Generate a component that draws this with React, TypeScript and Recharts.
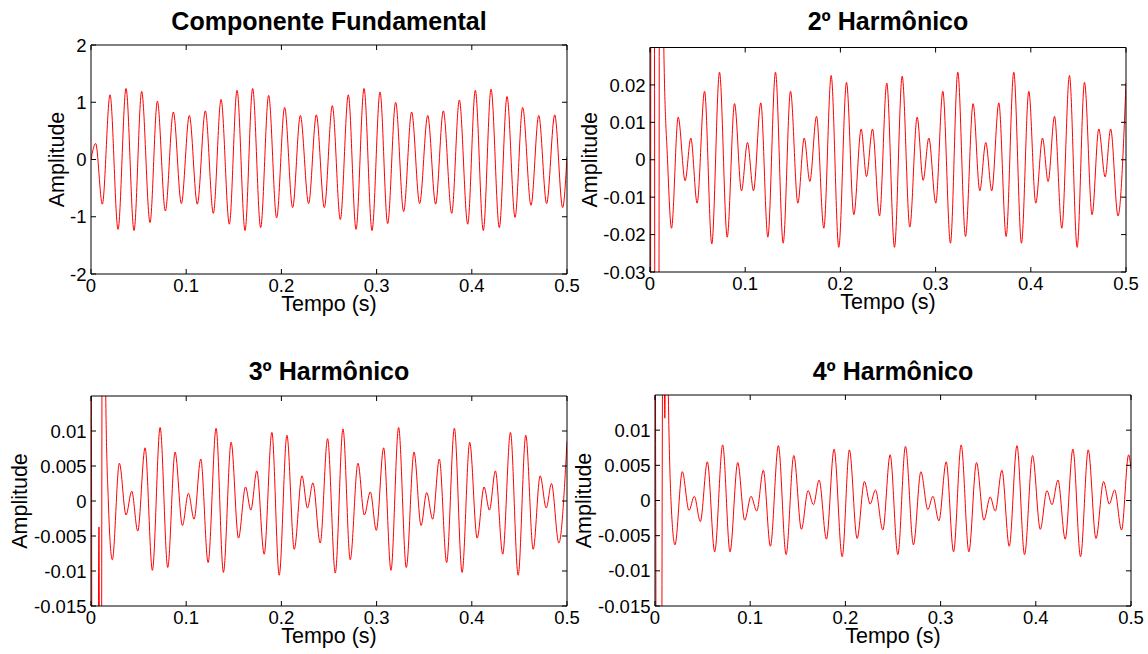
import React from 'react';
import { LineChart, Line, XAxis, YAxis } from 'recharts';

const W = 1148;
const H = 654;
const FONT = '"Liberation Sans", Arial, Helvetica, sans-serif';

const timeTicks = [0, 0.1, 0.2, 0.3, 0.4, 0.5];
const fundTicks = [-2, -1, 0, 1, 2];
const h2Ticks = [-0.03, -0.02, -0.01, 0, 0.01, 0.02];
const h34Ticks = [-0.015, -0.01, -0.005, 0, 0.005, 0.01];

const titles = ['Componente Fundamental', '2º Harmônico', '3º Harmônico', '4º Harmônico'];
const xLabel = 'Tempo (s)';
const yLabel = 'Amplitude';

// Componente fundamental: extrema
const fundT = [0, 0.0049, 0.0119, 0.0200, 0.0284, 0.0368, 0.0452, 0.0532, 0.0620, 0.0697, 0.0781,
  0.0865, 0.0949, 0.1033, 0.1117, 0.1201, 0.1285, 0.1366, 0.1453, 0.1534, 0.1618,
  0.1698, 0.1782, 0.1866, 0.1950, 0.2034, 0.2118, 0.2199, 0.2286, 0.2367, 0.2451,
  0.2535, 0.2619, 0.2703, 0.2784, 0.2868, 0.2952, 0.3036, 0.3116, 0.3200, 0.3284,
  0.3368, 0.3452, 0.3537, 0.3620, 0.3701, 0.3789, 0.3869, 0.3957, 0.4037, 0.4121,
  0.4202, 0.4289, 0.4370, 0.4454, 0.4534, 0.4622, 0.4703, 0.4786, 0.4871, 0.4954, 0.5];
const fundA = [0, 0.28, -0.78, 1.13, -1.22, 1.24, -1.24, 1.19, -1.10, 1.02, -0.90,
  0.83, -0.77, 0.77, -0.78, 0.85, -0.94, 1.05, -1.13, 1.21, -1.24,
  1.24, -1.19, 1.12, -1.02, 0.91, -0.84, 0.77, -0.77, 0.78, -0.84,
  0.94, -1.05, 1.13, -1.22, 1.24, -1.24, 1.18, -1.12, 1.00, -0.91,
  0.83, -0.77, 0.77, -0.78, 0.85, -0.94, 1.04, -1.13, 1.21, -1.24,
  1.23, -1.19, 1.10, -1.01, 0.91, -0.80, 0.77, -0.77, 0.78, -0.84, 0.05];

// 2º harmônico
const h2T = [0, 0.0025, 0.0072, 0.0118, 0.0145, 0.0184,
  0.0226, 0.0296, 0.0369, 0.0429, 0.0495, 0.0573, 0.0649, 0.0730, 0.0811, 0.0888,
  0.0961, 0.1024, 0.1087, 0.1164, 0.1238, 0.1318, 0.1399, 0.1476, 0.1553, 0.1620,
  0.1679, 0.1749, 0.1826, 0.1903, 0.1983, 0.2064, 0.2141, 0.2218, 0.2274, 0.2337,
  0.2411, 0.2487, 0.2568, 0.2649, 0.2729, 0.2806, 0.2869, 0.2929, 0.3002, 0.3076,
  0.3156, 0.3233, 0.3314, 0.3394, 0.3464, 0.3527, 0.3590, 0.3664, 0.3741, 0.3821,
  0.3902, 0.3979, 0.4052, 0.4123, 0.4182, 0.4249, 0.4326, 0.4406, 0.4487, 0.4564,
  0.4644, 0.4714, 0.4781, 0.4839, 0.4916, 0.5];
const h2A = [-0.3, 0.4, -0.4, 0.35, 0.03, 0,
  -0.0183, 0.0114, -0.0056, 0.0058, -0.0116, 0.0183, -0.0225, 0.0234, -0.0207, 0.0150,
  -0.0083, 0.0046, -0.0083, 0.0152, -0.0207, 0.0234, -0.0223, 0.0183, -0.0116, 0.0058,
  -0.0058, 0.0116, -0.0183, 0.0225, -0.0234, 0.0207, -0.0147, 0.0082, -0.0045, 0.0082,
  -0.0150, 0.0205, -0.0234, 0.0223, -0.0180, 0.0114, -0.0055, 0.0058, -0.0116, 0.0183,
  -0.0223, 0.0234, -0.0205, 0.0150, -0.0083, 0.0046, -0.0083, 0.0152, -0.0205, 0.0234,
  -0.0223, 0.0183, -0.0116, 0.0058, -0.0058, 0.0116, -0.0183, 0.0225, -0.0234, 0.0207,
  -0.0147, 0.0082, -0.0046, 0.0082, -0.0150, 0.0205];

// 3º harmônico
const h3T = [0, 0.0045, 0.0084, 0.0099, 0.0128, 0.0155, 0.0182,
  0.0224, 0.0298, 0.0368, 0.0428, 0.0491, 0.0568, 0.0645, 0.0726, 0.0806, 0.0883,
  0.0960, 0.1023, 0.1083, 0.1153, 0.1230, 0.1314, 0.1391, 0.1472, 0.1549, 0.1623,
  0.1679, 0.1742, 0.1819, 0.1900, 0.1977, 0.2058, 0.2135, 0.2216, 0.2274, 0.2331,
  0.2408, 0.2485, 0.2566, 0.2647, 0.2723, 0.2804, 0.2871, 0.2934, 0.2997, 0.3074,
  0.3151, 0.3231, 0.3312, 0.3393, 0.3467, 0.3526, 0.3589, 0.3659, 0.3736, 0.3817,
  0.3898, 0.3978, 0.4056, 0.4129, 0.4185, 0.4248, 0.4325, 0.4406, 0.4487, 0.4567,
  0.4645, 0.4718, 0.4782, 0.4837, 0.4914, 0.5];
const h3A = [0.05, -0.2, -0.0037, -0.1, 0.1, 0.015, 0,
  -0.0084, 0.0054, -0.0020, 0.0014, -0.0043, 0.0076, -0.0099, 0.0105, -0.0095, 0.0070,
  -0.0035, 0.0011, -0.0026, 0.0060, -0.0088, 0.0104, -0.0102, 0.0084, -0.0053, 0.0020,
  -0.0013, 0.0043, -0.0076, 0.0098, -0.0106, 0.0094, -0.0069, 0.0036, -0.0010, 0.0026,
  -0.0060, 0.0089, -0.0103, 0.0103, -0.0084, 0.0054, -0.0020, 0.0013, -0.0042, 0.0076,
  -0.0099, 0.0105, -0.0095, 0.0070, -0.0035, 0.0012, -0.0026, 0.0060, -0.0088, 0.0104,
  -0.0102, 0.0084, -0.0053, 0.0020, -0.0013, 0.0043, -0.0076, 0.0098, -0.0106, 0.0094,
  -0.0069, 0.0036, -0.0010, 0.0025, -0.0060, 0.0085];

// 4º harmônico
const h4T = [0, 0.0045, 0.0088, 0.0103, 0.0118, 0.0140, 0.0168,
  0.0210, 0.0287, 0.0357, 0.0413, 0.0476, 0.0550, 0.0627, 0.0711, 0.0788, 0.0869,
  0.0942, 0.1009, 0.1069, 0.1138, 0.1212, 0.1296, 0.1377, 0.1458, 0.1538, 0.1608,
  0.1664, 0.1724, 0.1801, 0.1881, 0.1966, 0.2042, 0.2123, 0.2200, 0.2260, 0.2316,
  0.2393, 0.2470, 0.2551, 0.2631, 0.2715, 0.2793, 0.2866, 0.2919, 0.2982, 0.3059,
  0.3136, 0.3216, 0.3297, 0.3377, 0.3455, 0.3521, 0.3574, 0.3644, 0.3721, 0.3802,
  0.3882, 0.3966, 0.4047, 0.4117, 0.4170, 0.4233, 0.4309, 0.4390, 0.4470, 0.4551,
  0.4632, 0.4712, 0.4772, 0.4828, 0.4901, 0.4975, 0.5];
const h4A = [0.05, -0.15, 0.04, 0.0117, 0.04, 0.015, 0,
  -0.0063, 0.0041, -0.0014, 0.0006, -0.0030, 0.0055, -0.0073, 0.0079, -0.0073, 0.0054,
  -0.0028, 0.0006, -0.0015, 0.0043, -0.0065, 0.0078, -0.0077, 0.0064, -0.0041, 0.0014,
  -0.0006, 0.0029, -0.0055, 0.0073, -0.0080, 0.0072, -0.0054, 0.0027, -0.0005, 0.0015,
  -0.0042, 0.0065, -0.0077, 0.0077, -0.0063, 0.0041, -0.0013, 0.0006, -0.0029, 0.0055,
  -0.0073, 0.0079, -0.0073, 0.0054, -0.0028, 0.0005, -0.0015, 0.0043, -0.0065, 0.0078,
  -0.0077, 0.0064, -0.0041, 0.0014, -0.0006, 0.0029, -0.0055, 0.0073, -0.0080, 0.0072,
  -0.0054, 0.0027, -0.0005, 0.0015, -0.0042, 0.0065, 0.0045];

const rows = (t: number[], a: number[]) => t.map((v, i) => ({ t: v, a: a[i] }));

const TICK_FS = 18.5;
const LABEL_FS = 21.5;
const TICK_LEN = 5;

const BottomTick = (p: any) => (
  <g>
    <line x1={p.x} y1={p.y} x2={p.x} y2={p.y - TICK_LEN} stroke="#000" />
    <text x={p.x} y={p.y + 18} textAnchor="middle" fontSize={TICK_FS} fontFamily={FONT} fill="#000">
      {String(p.payload.value)}
    </text>
  </g>
);
const TopTick = (p: any) => (
  <line x1={p.x} y1={p.y} x2={p.x} y2={p.y + TICK_LEN} stroke="#000" />
);
const LeftTick = (p: any) => (
  <g>
    <line x1={p.x} y1={p.y} x2={p.x + TICK_LEN} y2={p.y} stroke="#000" />
    <text x={p.x - 4.5} y={p.y + 6.6} textAnchor="end" fontSize={TICK_FS} fontFamily={FONT} fill="#000">
      {String(p.payload.value)}
    </text>
  </g>
);
const RightTick = (p: any) => (
  <line x1={p.x} y1={p.y} x2={p.x - TICK_LEN} y2={p.y} stroke="#000" />
);

type PanelProps = {
  px: number; py: number; pw: number; ph: number;
  t: number[]; a: number[];
  yDomain: [number, number]; yTicks: number[];
  labelX: number;
};

const YW = 70;
const XH = 40;
const TH = 1; // top axis height
const RW = 1; // right axis width

function Panel({ px, py, pw, ph, t, a, yDomain, yTicks, labelX }: PanelProps) {
  const data = rows(t, a);
  const left = px - YW;
  return (
    <div style={{ position: 'absolute', left: 0, top: 0 }}>
      <LineChart
        width={W}
        height={H}
        data={data}
        margin={{ top: py - TH, left, right: W - px - pw - RW, bottom: H - py - ph - XH }}
      >
        <XAxis
          xAxisId="b"
          dataKey="t"
          type="number"
          domain={[0, 0.5]}
          ticks={timeTicks}
          interval={0}
          tickSize={0}
          tickMargin={0}
          tickLine={false}
          tick={BottomTick}
          axisLine={{ stroke: '#000' }}
          height={XH}
          allowDataOverflow
          label={{ value: xLabel, position: 'insideBottom', offset: 3, fill: '#000', style: { fontSize: LABEL_FS, fontFamily: FONT } }}
        />
        <XAxis
          xAxisId="top"
          orientation="top"
          dataKey="t"
          type="number"
          domain={[0, 0.5]}
          ticks={timeTicks}
          interval={0}
          tickSize={0}
          tickMargin={0}
          tickLine={false}
          tick={TopTick}
          axisLine={{ stroke: '#000' }}
          height={TH}
          allowDataOverflow
        />
        <YAxis
          yAxisId="l"
          type="number"
          domain={yDomain}
          ticks={yTicks}
          interval={0}
          tickSize={0}
          tickMargin={0}
          tickLine={false}
          tick={LeftTick}
          axisLine={{ stroke: '#000' }}
          width={YW}
          allowDataOverflow
          label={{ value: yLabel, angle: -90, position: 'insideLeft', offset: labelX - left, fill: '#000', style: { textAnchor: 'middle', fontSize: LABEL_FS, fontFamily: FONT } }}
        />
        <YAxis
          yAxisId="r"
          orientation="right"
          type="number"
          domain={yDomain}
          ticks={yTicks}
          interval={0}
          tickSize={0}
          tickMargin={0}
          tickLine={false}
          tick={RightTick}
          axisLine={{ stroke: '#000' }}
          width={RW}
          allowDataOverflow
        />
        <Line
          xAxisId="top"
          yAxisId="r"
          dataKey="a"
          type="monotone"
          stroke="none"
          strokeWidth={0}
          dot={false}
          activeDot={false}
          legendType="none"
          isAnimationActive={false}
        />
        <Line
          xAxisId="b"
          yAxisId="l"
          dataKey="a"
          type="monotone"
          stroke="#ff0000"
          strokeWidth={1}
          dot={false}
          activeDot={false}
          isAnimationActive={false}
        />
      </LineChart>
    </div>
  );
}

const panels = [
  { px: 91, py: 45, pw: 476, ph: 229, t: fundT, a: fundA, yDomain: [-2, 2] as [number, number], yTicks: fundTicks, labelX: 56.5, titleY: 30 },
  { px: 650, py: 47.5, pw: 476, ph: 224.5, t: h2T, a: h2A, yDomain: [-0.03, 0.03] as [number, number], yTicks: h2Ticks, labelX: 589, titleY: 30 },
  { px: 91, py: 396, pw: 476, ph: 210, t: h3T, a: h3A, yDomain: [-0.015, 0.015] as [number, number], yTicks: h34Ticks, labelX: 19, titleY: 380 },
  { px: 655, py: 395, pw: 476, ph: 211, t: h4T, a: h4A, yDomain: [-0.015, 0.015] as [number, number], yTicks: h34Ticks, labelX: 583, titleY: 380 },
];

export default function App() {
  return (
    <div style={{ position: 'absolute', left: 0, top: 0, width: W, height: H, background: '#fff', overflow: 'hidden' }}>
      {panels.map((p, i) => (
        <Panel key={i} px={p.px} py={p.py} pw={p.pw} ph={p.ph} t={p.t} a={p.a} yDomain={p.yDomain} yTicks={p.yTicks} labelX={p.labelX} />
      ))}
      <svg width={W} height={H} style={{ position: 'absolute', left: 0, top: 0, pointerEvents: 'none' }}>
        {panels.map((p, i) => (
          <text key={i} x={p.px + p.pw / 2} y={p.titleY} textAnchor="middle" fontSize={25} fontWeight="bold" fontFamily={FONT} fill="#000">
            {titles[i]}
          </text>
        ))}
      </svg>
    </div>
  );
}
